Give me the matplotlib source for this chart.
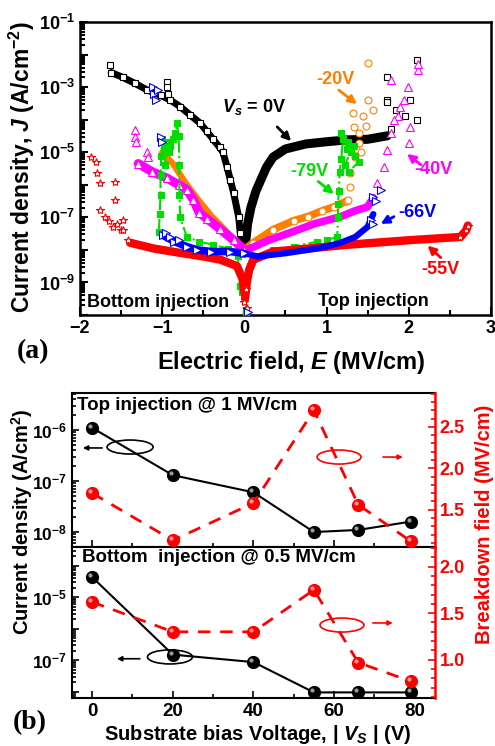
import numpy as np
import matplotlib
matplotlib.use("Agg")
import matplotlib.pyplot as plt
from matplotlib.patches import Ellipse
from matplotlib.ticker import FixedLocator, FuncFormatter, LogLocator, MultipleLocator, NullFormatter
from matplotlib.transforms import ScaledTranslation

plt.rcParams['font.family'] = ['Liberation Sans', 'DejaVu Sans']
plt.rcParams['font.weight'] = 'bold'
plt.rcParams['mathtext.fontset'] = 'custom'
plt.rcParams['mathtext.rm'] = 'Liberation Sans:bold'
plt.rcParams['mathtext.it'] = 'Liberation Sans:italic:bold'
plt.rcParams['mathtext.bf'] = 'Liberation Sans:bold'

# ---------------- panel (a): J-E curves ----------------
# Vs = 0V (open squares)
e0_neg = [-1.62, -1.48, -1.33, -1.18, -1.02, -0.9, -0.78, -0.66, -0.54, -0.46, -0.38, -0.3, -0.26,
          -0.21, -0.17, -0.13, -0.07, -0.05, -0.02]
j0_neg = [2.8e-3, 2.0e-3, 1.3e-3, 8.1e-4, 5.6e-4, 4.0e-4, 2.5e-4, 1.4e-4, 7.9e-5, 4.5e-5, 2.5e-5, 1.4e-5,
          1.0e-5, 3.5e-6, 1.4e-6, 5.6e-7, 1.05e-7, 3.4e-8, 1.26e-8]
e0_pos = [0.0, 0.01, 0.04, 0.08, 0.14, 0.2, 0.27, 0.35, 0.5, 0.75, 1.0, 1.25, 1.5, 1.74]
j0_pos = [7.9e-9, 1.26e-8, 6.3e-8, 2.0e-7, 6.3e-7, 1.4e-6, 3.5e-6, 7.1e-6, 1.26e-5, 1.8e-5, 2.1e-5,
          2.4e-5, 2.5e-5, 3.2e-5]
e0_sc = [-1.63, -0.94, -0.94, -0.93, 1.74, 1.74, 1.74, 1.78, 1.84, 2.02, 2.1, 2.1, 1.95]
j0_sc = [4.8e-3, 1.45e-3, 1.0e-3, 6.3e-4, 2.0e-3, 4.1e-4, 3.5e-4, 5.0e-5, 2.0e-4, 4.1e-4, 6.8e-3,
         1.0e-4, 1.26e-4]

# Vs = -20V (open circles)
e20_neg = [-1.0, -0.87, -0.7, -0.55, -0.4, -0.25, -0.1, -0.02]
j20_neg = [1.0e-5, 4.5e-6, 1.0e-6, 3.2e-7, 1.1e-7, 4.5e-8, 1.8e-8, 1.0e-8]
e20_pos = [0.0, 0.1, 0.35, 0.6, 0.77, 0.95, 1.09, 1.25]
j20_pos = [1.0e-8, 1.6e-8, 4.2e-8, 7.9e-8, 1.05e-7, 1.6e-7, 2.1e-7, 3.2e-7]
e20_sc = [1.26, 1.28, 1.29, 1.35, 1.39, 1.33, 1.32, 1.5, 1.51, 1.56, 1.45, 1.40, 1.36, 1.42, 1.48]
j20_sc = [3.5e-7, 8.7e-7, 2.3e-6, 7.2e-6, 1.95e-5, 6.0e-5, 1.6e-4, 4.1e-4, 5.5e-3, 2.0e-4, 1.26e-4,
          4.0e-5, 1.26e-5, 1.0e-5, 6.3e-5]

# Vs = -40V (open triangles)
e40_neg = [-1.29, -1.12, -0.94, -0.8, -0.7, -0.62, -0.55, -0.45, -0.3, -0.13, 0.0]
j40_neg = [4.5e-6, 2.5e-6, 1.6e-6, 1.0e-6, 7.1e-7, 3.5e-7, 1.4e-7, 8.9e-8, 4.5e-8, 2.0e-8, 1.0e-8]
e40_pos = [0.0, 0.07, 0.3, 0.56, 0.85, 1.17, 1.35, 1.5, 1.57]
j40_pos = [1.0e-8, 1.1e-8, 2.0e-8, 3.4e-8, 6.3e-8, 1.05e-7, 1.6e-7, 2.1e-7, 4.0e-7]
e40_sc = [-1.33, -1.33, -1.32, -1.18, -1.17, 1.62, 1.70, 1.74, 1.78, 1.87, 1.94, 1.99, 2.11, 2.0, 2.02,
          1.78, 2.11, 1.82, 1.9]
j40_sc = [4.9e-5, 2.95e-5, 2.0e-5, 1.0e-5, 7.2e-6, 1.15e-6, 3.5e-6, 1.2e-5, 3.9e-5, 1.26e-4, 4.1e-4,
          1.0e-3, 3.4e-3, 1.95e-5, 6.0e-5, 1.66e-3, 5.0e-3, 1.0e-4, 2.5e-4]

# Vs = -66V (open right triangles)
e66_neg = [-0.99, -0.85, -0.7, -0.57, -0.4, -0.17, -0.01]
j66_neg = [2.8e-8, 1.8e-8, 1.26e-8, 1.0e-8, 8.9e-9, 8.9e-9, 7.9e-9]
e66_pos = [0.0, 0.16, 0.5, 0.77, 1.0, 1.17, 1.35, 1.5, 1.57]
j66_pos = [7.9e-9, 6.3e-9, 7.9e-9, 1.0e-8, 1.26e-8, 1.66e-8, 2.5e-8, 5.1e-8, 1.26e-7]
e66_sc = [-1.11, -1.1, -1.08, -1.05, -1.02, -1.0, -0.95, -0.9, -0.8, 1.57, 1.66, 1.60, 1.54, 1.56, 0.04]
j66_sc = [1.0e-3, 6.3e-4, 4.0e-4, 7.9e-4, 2.95e-5, 2.0e-5, 3.2e-8, 2.5e-8, 2.0e-8, 4.3e-7, 7.1e-7,
          3.2e-7, 8.5e-8, 6.3e-8, 1.26e-10]

# Vs = -79V (filled squares)
e79_neg = [-1.04, -1.03, -1.02, -1.02, -1.01, -1.0, -0.98, -0.96, -0.94, -0.92, -0.9, -0.87, -0.84,
           -0.82, -0.8, -0.79, -0.79, -0.78, -0.7, -0.55, -0.38, -0.2, -0.08, -0.05, -0.03]
j79_neg = [3.5e-8, 1.26e-7, 5.0e-7, 2.0e-6, 7.9e-6, 2.5e-5, 1.26e-5, 4.0e-6, 2.0e-5, 1.0e-5, 1.6e-5,
           2.5e-5, 4.0e-5, 7.9e-5, 3.2e-5, 4.0e-6, 5.0e-7, 1.0e-7, 2.5e-8, 1.8e-8, 1.45e-8, 1.1e-8,
           6.3e-9, 7.9e-10, 5.0e-10]
e79_pos = [0.02, 0.02, 0.07, 0.2, 0.35, 0.6, 0.89, 1.0, 1.13, 1.14, 1.14, 1.15, 1.16, 1.18, 1.2, 1.18,
           1.25, 1.3, 1.33, 1.22, 1.27, 1.39, 1.35, 1.26]
j79_pos = [1.26e-10, 7.9e-10, 3.2e-9, 6.3e-9, 1.0e-8, 1.26e-8, 1.8e-8, 2.0e-8, 2.5e-8, 1.0e-7, 2.5e-7,
           6.3e-7, 2.5e-6, 6.3e-6, 2.5e-5, 4.0e-5, 1.26e-5, 1.0e-5, 1.6e-5, 4.0e-6, 2.5e-6, 5.0e-6,
           7.9e-6, 2.0e-5]

# Vs = -55V (open stars)
e55_neg = [-1.39, -1.1, -0.78, -0.5, -0.29, -0.09, -0.02, 0.0]
j55_neg = [1.66e-8, 1.1e-8, 8.1e-9, 6.3e-9, 5.0e-9, 3.2e-9, 1.26e-9, 5.0e-10]
e55_pos = [0.01, 0.03, 0.06, 0.11, 0.35, 0.77, 1.2, 1.5, 2.02, 2.4, 2.63, 2.7, 2.72]
j55_pos = [3.2e-10, 1.0e-9, 2.5e-9, 5.0e-9, 8.9e-9, 1.1e-8, 1.4e-8, 1.6e-8, 2.0e-8, 2.3e-8, 2.5e-8,
           4.0e-8, 5.6e-8]
e55_sc = [-1.86, -1.8, -1.79, -1.76, -1.57, -1.57, -1.76, -1.7, -1.48, -1.5, -1.6, -1.48, -1.41, -1.65,
          -1.55, 0.02, 0.0, 0.03]
j55_sc = [7.2e-6, 5.0e-6, 2.3e-6, 1.15e-6, 1.26e-6, 3.5e-7, 1.7e-7, 1.05e-7, 8.5e-8, 4.0e-8, 5.1e-8,
          4.0e-8, 2.0e-8, 7.9e-8, 6.3e-8, 6.3e-10, 2.5e-10, 1.6e-10]

# ---------------- panel (b): vs substrate bias ----------------
vs = [0, 20, 40, 55, 66, 79]
top_j = [1.1e-6, 1.3e-7, 6.0e-8, 1.0e-8, 1.1e-8, 1.6e-8]
top_ebd = [1.70, 1.13, 1.58, 2.70, 1.56, 1.12]
bot_j = [4.3e-5, 1.5e-7, 8.7e-8, 9.5e-9, 9.5e-9, 9.5e-9]
bot_ebd = [1.62, 1.30, 1.30, 1.75, 0.97, 0.77]

ORANGE = '#ff8000'
MAGENTA = '#ff00ff'
GREEN = '#00dd00'
BLUE = '#0000ff'
RED = '#ff0000'

fig = plt.figure(figsize=(4.95, 7.46), dpi=100)
ax = fig.add_axes([0.1616, 0.5777, 0.830, 0.3928])


def band(e, j, c, lw, z):
    ax.plot(e, j, color=c, lw=lw, solid_capstyle='round', solid_joinstyle='round', zorder=z)


def pts(e, j, c, m, ms, z, fill='white', ls='none', lw=0):
    ax.plot(e, j, ls=ls, lw=lw, color=c, marker=m, ms=ms, mfc=fill, mec=c, mew=0.8, zorder=z)


# 0V
band(e0_neg, j0_neg, 'black', 5, 2)
pts(e0_neg, j0_neg, 'black', 's', 4.5, 2.1)
band(e0_pos, j0_pos, 'black', 6.5, 2)
pts(e0_sc, j0_sc, 'black', 's', 4.5, 2.1)
# -20V
band(e20_neg, j20_neg, ORANGE, 4.5, 3)
band(e20_pos, j20_pos, ORANGE, 5.5, 3)
pts(e20_pos, j20_pos, ORANGE, 'o', 5, 3.1)
pts(e20_sc, j20_sc, ORANGE, 'o', 5, 3.1)
# -40V
band(e40_neg, j40_neg, MAGENTA, 6.5, 4)
pts(e40_neg, j40_neg, MAGENTA, '^', 5.5, 4.1)
band(e40_pos, j40_pos, MAGENTA, 5.5, 4)
pts(e40_sc, j40_sc, MAGENTA, '^', 5.5, 4.1)
# -79V
pts(e79_neg, j79_neg, GREEN, 's', 4.5, 5, fill=GREEN, ls='-.', lw=1.5)
pts(e79_pos, j79_pos, GREEN, 's', 4.5, 5, fill=GREEN, ls='-.', lw=1.5)
# -55V
band(e55_neg, j55_neg, RED, 6, 5.5)
band(e55_pos, j55_pos, RED, 6, 5.5)
pts(e55_sc, j55_sc, RED, '*', 6, 5.6)
pts(e55_pos[-3:], j55_pos[-3:], RED, '*', 6, 5.6)
# -66V
band(e66_neg, j66_neg, BLUE, 5.5, 6)
pts(e66_neg, j66_neg, BLUE, '>', 5.5, 6.1)
band(e66_pos, j66_pos, BLUE, 4.5, 6)
pts(e66_sc, j66_sc, BLUE, '>', 5.5, 6.1)

ax.set_yscale('log')
ax.set_xlim(-2, 3)
ax.set_ylim(1e-10, 1e-1)
ax.yaxis.set_major_locator(FixedLocator([10.0 ** k for k in range(-10, 0)]))
ax.yaxis.set_major_formatter(FuncFormatter(
    lambda v, p: r'$10^{%d}$' % round(np.log10(v)) if round(np.log10(v)) % 2 else ''))
ax.yaxis.set_minor_locator(LogLocator(base=10, subs=np.arange(2, 10), numticks=100))
ax.yaxis.set_minor_formatter(NullFormatter())
ax.xaxis.set_major_locator(MultipleLocator(1))
ax.xaxis.set_minor_locator(MultipleLocator(0.5))
ax.tick_params(which='both', direction='in', top=False, right=False, width=1.5)
ax.tick_params(which='major', length=6, labelsize=13)
ax.tick_params(which='minor', length=3.5)
for s in ax.spines.values():
    s.set_linewidth(1.8)

arr = dict(arrowstyle='-|>', lw=2, mutation_scale=12, shrinkA=0, shrinkB=0)
ax.text(-0.27, 2.5e-4, r'$V_s$ = 0V', fontsize=13, va='center', ha='left')
ax.annotate('', xy=(0.57, 2.2e-5), xytext=(0.40, 6.0e-5), arrowprops=dict(arr, color='black'))
ax.text(1.11, 1.66e-3, '-20V', color=ORANGE, fontsize=13, ha='center', va='center')
ax.annotate('', xy=(1.37, 3.0e-4), xytext=(1.15, 8.1e-4), arrowprops=dict(arr, color=ORANGE))
ax.text(0.79, 2.5e-6, '-79V', color=GREEN, fontsize=13, ha='center', va='center')
ax.annotate('', xy=(1.09, 5.2e-7), xytext=(0.90, 1.26e-6), arrowprops=dict(arr, color=GREEN))
ax.text(2.30, 2.9e-6, '-40V', color=MAGENTA, fontsize=13, ha='center', va='center')
ax.annotate('', xy=(1.98, 8.9e-6), xytext=(2.15, 4.1e-6), arrowprops=dict(arr, color=MAGENTA))
ax.text(2.10, 1.4e-7, '-66V', color=BLUE, fontsize=13, ha='center', va='center')
ax.annotate('', xy=(1.66, 6.3e-8), xytext=(1.82, 1.05e-7), arrowprops=dict(arr, color=BLUE))
ax.text(2.39, 2.5e-9, '-55V', color=RED, fontsize=13, ha='center', va='center')
ax.annotate('', xy=(2.23, 1.35e-8), xytext=(2.39, 5.8e-9), arrowprops=dict(arr, color=RED))
ax.text(-1.91, 2.4e-10, 'Bottom injection', fontsize=13, ha='left', va='center')
ax.text(0.90, 2.6e-10, 'Top injection', fontsize=13, ha='left', va='center')

fig.text(22 / 495, 1 - 167 / 746, r'Current density, $J$ (A/cm$^{-2}$)', rotation=90,
         ha='center', va='center', fontsize=16.5)
fig.text(291 / 495, 1 - 362 / 746, r'Electric field, $E$ (MV/cm)', ha='center', va='center',
         fontsize=17)
fig.text(33 / 495, 1 - 352 / 746, '(a)', family='Liberation Serif', fontsize=20,
         ha='center', va='center')

# ---------------- panel (b) ----------------
axt = fig.add_axes([0.1455, 0.2668, 0.733, 0.2064])
axb = fig.add_axes([0.1455, 0.0643, 0.733, 0.2025])
axt2 = axt.twinx()
axb2 = axb.twinx()


def balls(a, x, y, c, hi, ls, z):
    if ls == '-':
        a.plot(x, y, color=c, lw=1.5, zorder=z)
    else:
        a.plot(x, y, color=c, lw=2, dashes=(4.5, 3.5), zorder=z)
    a.plot(x, y, ls='none', marker='o', ms=8.5, mfc=c, mec=c, zorder=z + 0.1)
    off = a.transData + ScaledTranslation(-1.5 / 72, 1.5 / 72, fig.dpi_scale_trans)
    a.plot(x, y, ls='none', marker='o', ms=3, mfc=hi, mec='none', transform=off, zorder=z + 0.2)


balls(axt, vs, top_j, 'black', '#9a9a9a', '-', 3)
balls(axt2, vs, top_ebd, RED, '#ff9a9a', '--', 3)
balls(axb, vs, bot_j, 'black', '#9a9a9a', '-', 3)
balls(axb2, vs, bot_ebd, RED, '#ff9a9a', '--', 3)

for a in (axt, axb):
    a.set_yscale('log')
    a.set_xlim(-5, 85)
    a.xaxis.set_major_locator(MultipleLocator(20))
    a.xaxis.set_minor_locator(MultipleLocator(10))
    a.yaxis.set_minor_locator(LogLocator(base=10, subs=np.arange(2, 10), numticks=100))
    a.yaxis.set_minor_formatter(NullFormatter())
    a.tick_params(which='both', direction='in', top=False, right=False, width=1.2)
    a.tick_params(which='major', length=5, labelsize=12.5)
    a.tick_params(which='minor', length=3)
    a.tick_params(axis='x', labelsize=13.5)
    a.spines['right'].set_visible(False)
    for s in ('left', 'top', 'bottom'):
        a.spines[s].set_linewidth(1.5)
axt.set_ylim(5.1e-9, 5.3e-6)
axt.yaxis.set_major_locator(FixedLocator([1e-8, 1e-7, 1e-6]))
axt.tick_params(axis='x', labelbottom=False)
axb.set_ylim(6.3e-9, 3.9e-4)
axb.yaxis.set_major_locator(FixedLocator([10.0 ** k for k in range(-8, -3)]))
axb.yaxis.set_major_formatter(FuncFormatter(
    lambda v, p: r'$10^{%d}$' % round(np.log10(v)) if round(np.log10(v)) % 2 else ''))

for a2 in (axt2, axb2):
    a2.yaxis.set_major_locator(MultipleLocator(0.5))
    a2.yaxis.set_minor_locator(MultipleLocator(0.1))
    a2.yaxis.set_major_formatter(FuncFormatter(lambda v, p: '%.1f' % v))
    a2.tick_params(which='both', direction='in', colors=RED, width=1.2)
    a2.tick_params(which='major', length=5, labelsize=13)
    a2.tick_params(which='minor', length=3)
    for s in ('left', 'top', 'bottom'):
        a2.spines[s].set_visible(False)
    a2.spines['right'].set_color(RED)
    a2.spines['right'].set_linewidth(1.8)
axt2.set_ylim(1.05, 2.91)
axb2.set_ylim(0.59, 2.21)

axt.text(0.014, 0.92, 'Top injection @ 1 MV/cm', transform=axt.transAxes, fontsize=13.5,
         ha='left', va='center')
axb.text(0.028, 0.927, 'Bottom  injection @ 0.5 MV/cm', transform=axb.transAxes, fontsize=13.5,
         ha='left', va='center')

hd = dict(arrowstyle='-|>', lw=1.2, mutation_scale=7, shrinkA=0, shrinkB=0)
axt.add_patch(Ellipse((0.16, 0.649), 0.127, 0.091, transform=axt.transAxes, fill=False,
                      ec='black', lw=1.2))
axt.annotate('', xy=(0.03, 0.643), xytext=(0.083, 0.643), xycoords='axes fraction',
             arrowprops=dict(hd, color='black'))
axt.add_patch(Ellipse((0.736, 0.584), 0.121, 0.091, transform=axt.transAxes, fill=False,
                      ec=RED, lw=1.2))
axt.annotate('', xy=(0.912, 0.584), xytext=(0.857, 0.584), xycoords='axes fraction',
             arrowprops=dict(hd, color=RED))
axb.add_patch(Ellipse((0.27, 0.272), 0.124, 0.093, transform=axb.transAxes, fill=False,
                      ec='black', lw=1.2))
axb.annotate('', xy=(0.124, 0.26), xytext=(0.187, 0.26), xycoords='axes fraction',
             arrowprops=dict(hd, color='black'))
axb.add_patch(Ellipse((0.744, 0.483), 0.121, 0.093, transform=axb.transAxes, fill=False,
                      ec=RED, lw=1.2))
axb.annotate('', xy=(0.884, 0.497), xytext=(0.829, 0.497), xycoords='axes fraction',
             arrowprops=dict(hd, color=RED))

fig.text(22 / 495, 1 - 522 / 746, r'Current density (A/cm$^{2}$)', rotation=90,
         ha='center', va='center', fontsize=14.5)
fig.text(484 / 495, 1 - 524 / 746, 'Breakdown field (MV/cm)', rotation=90, color=RED,
         ha='center', va='center', fontsize=14.5)
fig.text(258 / 495, 1 - 734 / 746, r'Substrate bias Voltage, | $V_S$ | (V)', ha='center',
         va='center', fontsize=14.5)
fig.text(30 / 495, 1 - 723 / 746, '(b)', family='Liberation Serif', fontsize=20,
         ha='center', va='center')

fig.savefig('out.png', dpi=100)
